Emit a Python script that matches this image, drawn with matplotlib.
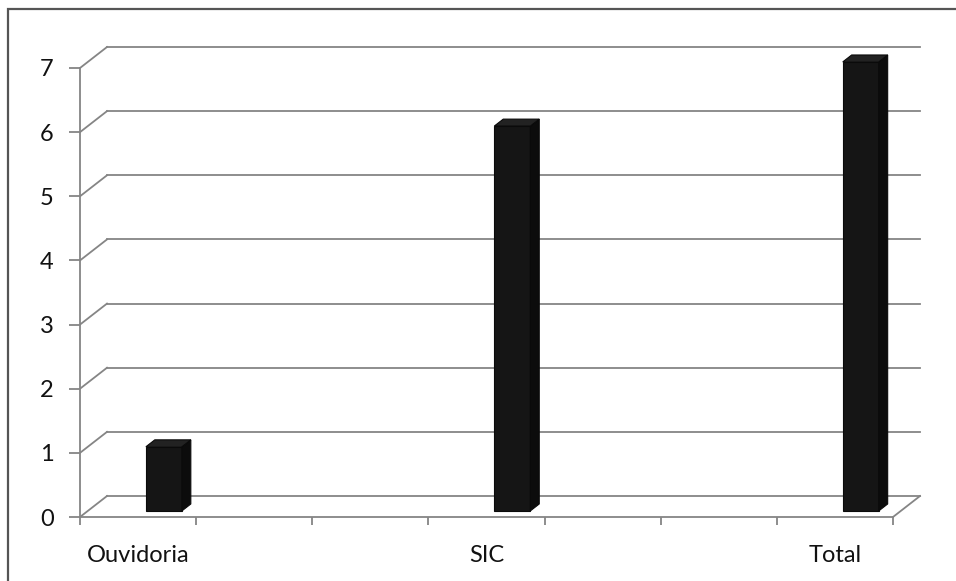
import numpy as np
import matplotlib
matplotlib.use('Agg')
import matplotlib.pyplot as plt
from matplotlib.patches import Polygon, Rectangle

# data
categories = ['Ouvidoria', 'SIC', 'Total']
values = [1, 6, 7]
slots = [0, 3, 6]          # category slots on a 7-slot axis
y_ticks = [0, 1, 2, 3, 4, 5, 6, 7]

W, H = 956, 581
fig = plt.figure(figsize=(W / 100, H / 100), dpi=100)
ax = fig.add_axes([80 / W, (H - 517) / H, (893 - 80) / W, (517 - 68) / H])
ax.set_xlim(-0.5, 6.5)
ax.set_ylim(0, 7)

# oblique depth vector (data units): 27 px right, 21 px up
px_x = (893 - 80) / 7.0
px_y = (517 - 68) / 7.0
ddx, ddy = 27 / px_x, 21 / px_y

grid_c = '#858585'
lw = 1.3

# back wall gridlines + left wall diagonals
for v in y_ticks:
    ax.plot([-0.5 + ddx, 6.5 + ddx], [v + ddy, v + ddy], color=grid_c, lw=lw,
            clip_on=False, zorder=1)
    ax.plot([-0.5, -0.5 + ddx], [v, v + ddy], color=grid_c, lw=lw,
            clip_on=False, zorder=1)
# floor right edge
ax.plot([6.5, 6.5 + ddx], [0, ddy], color=grid_c, lw=lw, clip_on=False, zorder=1)

# 3D bars
d0, d1 = 0.29, 0.62
bw = 0.31
xs = np.array(slots, dtype=float)
bars = ax.bar(xs + d0 * ddx, values, width=bw, bottom=d0 * ddy, align='edge',
              color='#151515', edgecolor='#0a0a0a', lw=0.8, zorder=3)
for b in bars:
    b.set_clip_on(False)
for x, v in zip(xs, values):
    xl = x + d0 * ddx
    xr = xl + bw
    yb = d0 * ddy
    yt = v + d0 * ddy
    sx = (d1 - d0) * ddx
    sy = (d1 - d0) * ddy
    side = Polygon([(xr, yb), (xr + sx, yb + sy), (xr + sx, yt + sy), (xr, yt)],
                   closed=True, facecolor='#0c0c0c', edgecolor='#0a0a0a',
                   lw=0.8, zorder=3, clip_on=False)
    top = Polygon([(xl, yt), (xl + sx, yt + sy), (xr + sx, yt + sy), (xr, yt)],
                  closed=True, facecolor='#222222', edgecolor='#0a0a0a',
                  lw=0.8, zorder=3, clip_on=False)
    ax.add_patch(side)
    ax.add_patch(top)

# axes styling
for s in ['top', 'right']:
    ax.spines[s].set_visible(False)
for s in ['left', 'bottom']:
    ax.spines[s].set_color(grid_c)
    ax.spines[s].set_linewidth(lw)

ax.set_yticks(y_ticks)
ax.set_yticklabels([str(t) for t in y_ticks])
ax.set_xticks(slots)
ax.set_xticklabels(categories)
ax.set_xticks(np.arange(-0.5, 7, 1.0), minor=True)
ax.tick_params(axis='y', length=8, width=lw, color=grid_c, pad=11,
               labelsize=17, labelcolor='#111111')
ax.tick_params(axis='x', which='major', length=0, pad=20,
               labelsize=17, labelcolor='#111111')
ax.tick_params(axis='x', which='minor', length=6, width=lw, color=grid_c)
for lab in ax.get_xticklabels() + ax.get_yticklabels():
    lab.set_family(['Lato', 'DejaVu Sans'])

# outer chart border (only left/top visible in the scan)
fig.patches.append(Rectangle((8 / W, -0.05), 1.1, (H - 9) / H + 0.05,
                             transform=fig.transFigure, fill=False,
                             edgecolor='#555555', lw=1.6))

fig.savefig('out.png', dpi=100, facecolor='white')
